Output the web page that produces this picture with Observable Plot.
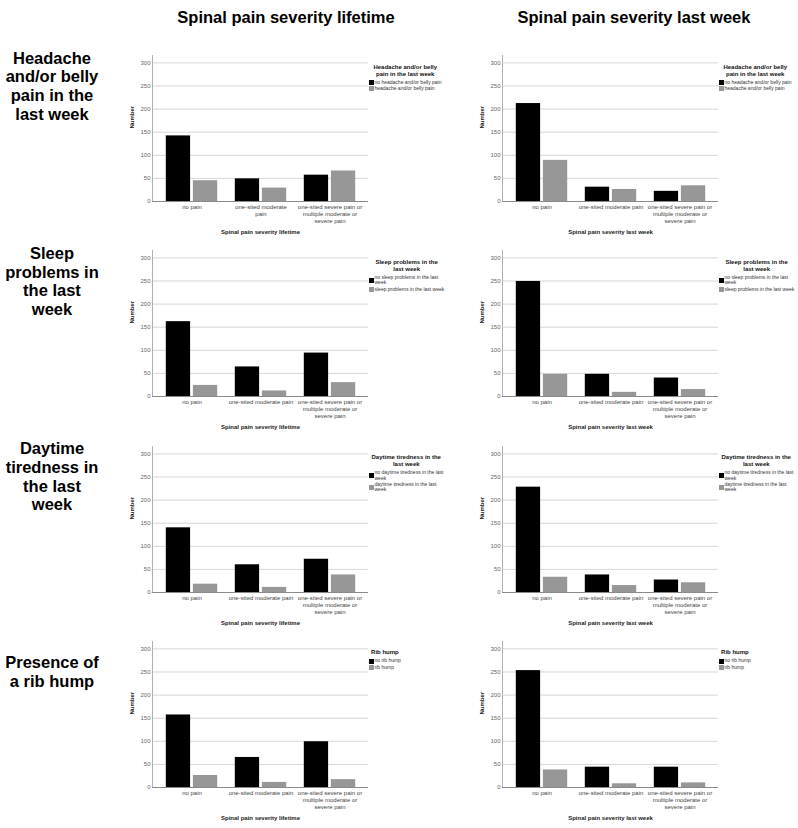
<!DOCTYPE html>
<html>
<head>
<meta charset="utf-8">
<script src="https://cdn.jsdelivr.net/npm/d3@7"></script>
<script src="https://cdn.jsdelivr.net/npm/@observablehq/plot@0.6"></script>
<style>
  html, body { margin: 0; padding: 0; background: #fff; }
  #page { position: relative; width: 798px; height: 828px; overflow: hidden; background: #fff;
          font-family: "Liberation Sans", Arial, sans-serif; color: #000; }
  .coltitle { position: absolute; width: 400px; text-align: center; font-weight: bold;
              font-size: 16.5px; line-height: 19px; white-space: nowrap; }
  .rowlabel { position: absolute; left: 0; width: 104px; height: 74.8px; display: flex;
              align-items: center; justify-content: center; text-align: center; font-weight: bold;
              font-size: 16.5px; line-height: 18.7px; white-space: pre; }
  .panel { position: absolute; }
  .legend { position: absolute; display: inline-block; }
  .legend .lt { font-weight: bold; font-size: 6px; line-height: 7px; text-align: center;
                white-space: pre; color: #111; margin-bottom: 2px; }
  .legend .li { display: flex; align-items: center; font-size: 5px; line-height: 5.5px;
                margin-bottom: 0.9px; color: #333; }
  .legend .li .sw { width: 5px; height: 5px; flex: none; margin-right: 0.5px; box-sizing: border-box; }
  .legend .li .tx { white-space: pre; }
</style>
</head>
<body>
<div id="page"></div>
<script>
// ---- data ----
const columnTitles = ["Spinal pain severity lifetime", "Spinal pain severity last week"];
const rowLabels = [
  "Headache\nand/or belly\npain in the\nlast week",
  "Sleep\nproblems in\nthe last\nweek",
  "Daytime\ntiredness in\nthe last\nweek",
  "Presence of\na rib hump"
];
const catsWrapped = ["no pain", "one-sited moderate\npain", "one-sited severe pain or\nmultiple moderate or\nsevere pain"];
const cats = ["no pain", "one-sited moderate pain", "one-sited severe pain or\nmultiple moderate or\nsevere pain"];
const yTicks = [0, 50, 100, 150, 200, 250, 300];

const legendTitles = [
  "Headache and/or belly\npain in the last week",
  "Sleep problems in the\nlast week",
  "Daytime tiredness in the\nlast week",
  "Rib hump"
];
const legendLabels = [
  ["no headache and/or belly pain", "headache and/or belly pain"],
  ["no sleep problems in the last\nweek", "sleep problems in the last week"],
  ["no daytime tiredness in the last\nweek", "daytime tiredness in the last\nweek"],
  ["no rib hump", "rib hump"]
];

// values: [row][column] -> {absent, present}
const absentLifetime  = [[142, 49, 57], [162, 64, 94], [140, 60, 72], [157, 65, 99]];
const presentLifetime = [[45, 29, 66],  [24, 12, 30],  [18, 11, 38],  [26, 11, 17]];
const absentLastWeek  = [[212, 31, 22], [249, 48, 40], [228, 38, 27], [253, 44, 44]];
const presentLastWeek = [[89, 26, 34],  [48, 9, 15],   [33, 15, 21],  [38, 8, 10]];

const colors = ["#000000", "#979797"];

// ---- layout ----
const page = document.getElementById("page");
const rowStep = 195.3;
const colLeft = [100, 450];        // svg left
const frameRight = [368, 718];     // legend left
const titleCenters = [286, 634];

columnTitles.forEach((t, i) => {
  const d = document.createElement("div");
  d.className = "coltitle";
  d.style.left = (titleCenters[i] - 200) + "px";
  d.style.top = "7.7px";
  d.textContent = t;
  page.appendChild(d);
});

rowLabels.forEach((t, r) => {
  const d = document.createElement("div");
  d.className = "rowlabel";
  d.style.top = (48.5 + r * rowStep) + "px";
  d.textContent = t;
  page.appendChild(d);
});

function panel(categories, absent, present, xTitle) {
  const data = categories.map((c, i) => ({cat: c, absent: absent[i], present: present[i]}));
  return Plot.plot({
    width: 268,
    height: 195,
    marginLeft: 52,
    marginRight: 0,
    marginTop: 10,
    marginBottom: 39,
    style: {background: "transparent", fontFamily: "'Liberation Sans', Arial, sans-serif", fontSize: "6px", overflow: "visible"},
    x: {domain: categories, padding: 0, insetLeft: 3.5, insetRight: 3.5},
    y: {domain: [0, 316]},
    marks: [
      Plot.gridY(yTicks.slice(1), {stroke: "#d6d6d6", strokeOpacity: 1}),
      Plot.barY(data, {x: "cat", y: "absent", fill: colors[0], insetLeft: 8.8, insetRight: 35.9}),
      Plot.barY(data, {x: "cat", y: "present", fill: colors[1], insetLeft: 35.9, insetRight: 8.8}),
      Plot.frame({anchor: "left", stroke: "#b0b0b0"}),
      Plot.ruleY([0], {stroke: "#8a8a8a"}),
      Plot.axisY(yTicks, {tickSize: 0, tickPadding: 2, label: null, fontSize: 6, fill: "#666"}),
      Plot.axisX({tickSize: 0, tickPadding: 3, label: null, fontSize: 6, fill: "#444", lineHeight: 1.13}),
      Plot.text([xTitle], {frameAnchor: "bottom", dy: 32, fontWeight: "bold", fontSize: 6, fill: "#222"}),
      Plot.text(["Number"], {frameAnchor: "left", dx: -20, rotate: -90, fontWeight: "bold", fontSize: 6, fill: "#222"})
    ]
  });
}

function legend(title, labels, left, top) {
  const d = document.createElement("div");
  d.className = "legend";
  d.style.left = left + "px";
  d.style.top = top + "px";
  const t = document.createElement("div");
  t.className = "lt";
  t.textContent = title;
  d.appendChild(t);
  labels.forEach((l, i) => {
    const it = document.createElement("div");
    it.className = "li";
    const sw = document.createElement("span");
    sw.className = "sw";
    sw.style.background = colors[i];
    const tx = document.createElement("span");
    tx.className = "tx";
    tx.textContent = l;
    it.appendChild(sw);
    it.appendChild(tx);
    d.appendChild(it);
  });
  page.appendChild(d);
}

for (let r = 0; r < 4; r++) {
  const top = 45 + r * rowStep;
  const sets = [
    [r === 0 ? catsWrapped : cats, absentLifetime[r], presentLifetime[r]],
    [cats, absentLastWeek[r], presentLastWeek[r]]
  ];
  sets.forEach(([c, a, p], col) => {
    const wrap = document.createElement("div");
    wrap.className = "panel";
    wrap.style.left = colLeft[col] + "px";
    wrap.style.top = top + "px";
    wrap.appendChild(panel(c, a, p, columnTitles[col]));
    page.appendChild(wrap);
    legend(legendTitles[r], legendLabels[r], frameRight[col] + 1, 63.5 + r * rowStep);
  });
}
</script>
</body>
</html>
